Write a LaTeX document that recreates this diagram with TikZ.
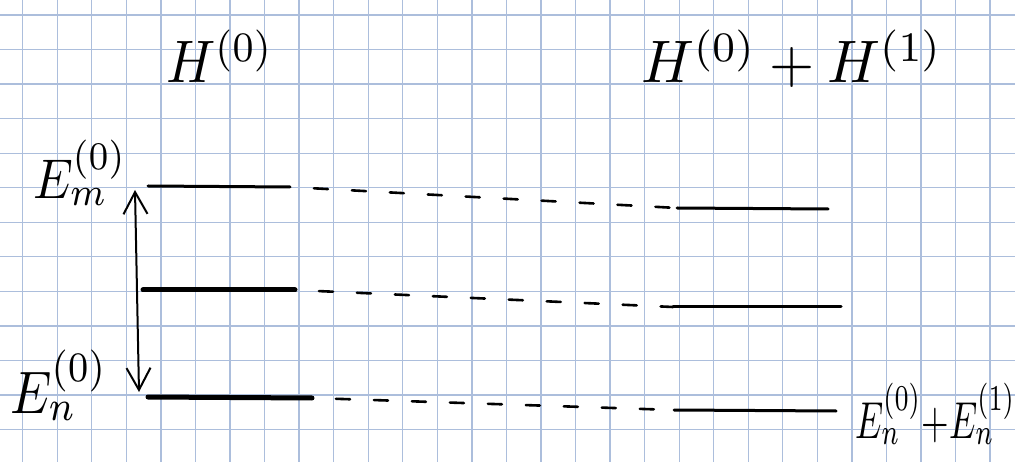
\documentclass[tikz,border=0pt]{standalone}
\usepackage{graphicx}
\usetikzlibrary{arrows.meta}
\definecolor{gridblue}{RGB}{172,190,220}
\begin{document}
\begin{tikzpicture}[x=1pt,y=-1pt,
  gridline/.style={draw=gridblue,line width=1.3pt},
  level/.style={line width=3pt,line cap=round},
  thicklevel/.style={line width=5pt,line cap=round},
  dashlevel/.style={line width=2.6pt,line cap=round,dash pattern=on 14pt off 24pt,dash phase=14pt},
  trans/.style={line width=2pt,line cap=round,{Straight Barb[length=22pt,width=24pt]}-{Straight Barb[length=22pt,width=24pt]}},
  lbl/.style={inner sep=0pt,anchor=base west,font=\fontsize{10}{12}\selectfont}]
\useasboundingbox (0,0) rectangle (1015,462);
\fill[white] (0,0) rectangle (1015,462);
% grid paper
\foreach \k in {0,...,28} \draw[gridline] ({22.7+34.55*\k},0) -- ({22.7+34.55*\k},462);
\foreach \k in {0,...,12} \draw[gridline] (0,{15+34.55*\k}) -- (1015,{15+34.55*\k});
% level end points
\coordinate (mL) at (148,186);  \coordinate (mLe) at (290,187);
\coordinate (mRs) at (677,208); \coordinate (mRe) at (828,209);
\coordinate (kL) at (143,290);  \coordinate (kLe) at (295,290);
\coordinate (kRs) at (673,307); \coordinate (kRe) at (841,307);
\coordinate (nL) at (148,397);  \coordinate (nLe) at (312,398);
\coordinate (nRs) at (674,410); \coordinate (nRe) at (836,411);
\coordinate (up) at (135,190);  \coordinate (dn) at (139,392);
% levels of H^(0)
\draw[level] (mL) -- (mLe);
\draw[thicklevel] (kL) -- (kLe);
\draw[thicklevel] (nL) -- (nLe);
% levels of H^(0)+H^(1)
\draw[level] (mRs) -- (mRe);
\draw[level] (kRs) -- (kRe);
\draw[level] (nRs) -- (nRe);
% dashed correspondences
\draw[dashlevel] (mLe) -- (mRs);
\draw[dashlevel] (kLe) -- (kRs);
\draw[dashlevel] (nLe) -- (nRs);
% transition arrow
\draw[trans] (up) -- (dn);
% labels
\node[lbl] (h0) at (166,83) {\scalebox{5.4}[6]{$H^{(0)}$}};
\node[lbl] (h01) at (641,83) {\scalebox{5.8}[6]{$H^{(0)}+H^{(1)}$}};
\node[lbl] (em) at (33,199) {\scalebox{5}[5.6]{$E_m^{(0)}$}};
\node[lbl] (en) at (10,413) {\scalebox{5.2}[6]{$E_n^{(0)}$}};
\node[lbl] (enn) at (855,438) {\scalebox{3.55}[5.2]{$E_n^{(0)}{+}E_n^{(1)}$}};
\end{tikzpicture}
\end{document}
